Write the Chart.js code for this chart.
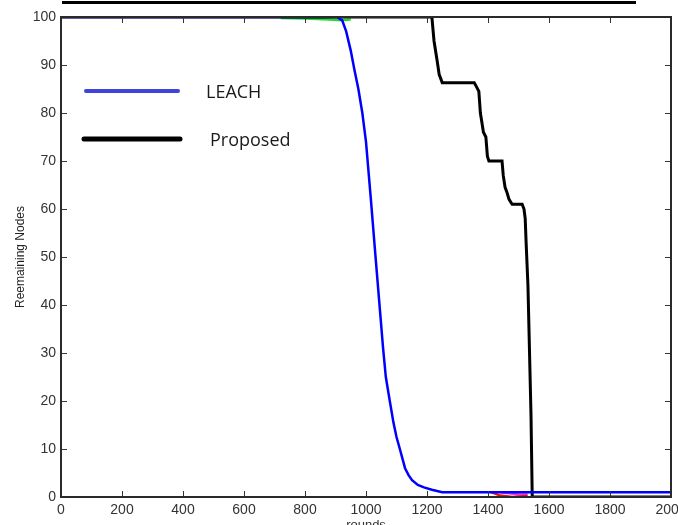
<!DOCTYPE html>
<html>
<head>
<meta charset="utf-8">
<script src="https://cdn.jsdelivr.net/npm/chart.js@4.4.1/dist/chart.umd.min.js"></script>
<style>
  html, body { margin: 0; padding: 0; background: #fff; }
  #wrap { position: relative; width: 678px; height: 525px; overflow: hidden; background: #fff; }
  #box { position: absolute; left: 0; top: 0; width: 700px; height: 545px; }
  #topline { position: absolute; left: 62px; top: 1px; width: 574px; height: 3px; background: #000; }
</style>
</head>
<body>
<div id="wrap">
  <div id="box"><canvas id="chart" width="700" height="545"></canvas></div>
  <div id="topline"></div>
</div>
<script>
// values
const leachRounds = [0, 905, 922, 935, 950, 962, 975, 988, 1000, 1016, 1030, 1043, 1056, 1065, 1078, 1090, 1100, 1111, 1128, 1140, 1151, 1170, 1190, 1216, 1250, 2000];
const leachNodes  = [100, 100, 99.3, 97, 93, 89, 85, 80, 74, 62, 51, 41, 31, 25, 20, 15.5, 12.5, 10, 6, 4.5, 3.5, 2.5, 2, 1.5, 1, 1];

const propRounds = [0, 1200, 1216, 1223, 1233, 1240, 1246, 1250, 1355, 1362, 1370, 1375, 1380, 1385, 1393, 1398, 1403, 1446, 1450, 1456, 1462, 1469, 1479, 1512, 1518, 1522, 1525, 1531, 1541, 1545, 2000];
const propNodes  = [100, 100, 100, 95, 91, 88, 87, 86.3, 86.3, 85.5, 84.5, 80, 78, 76, 75, 71, 70, 70, 67, 64.5, 63.5, 62, 61, 61, 60, 58, 53, 44, 17, 0, 0];

// faint leftovers of other runs visible in the figure
const greenRounds = [720, 800, 880, 920, 950];
const greenNodes  = [99.8, 99.7, 99.5, 99.3, 99.5];
const redRounds = [1410, 1440, 1480, 1530];
const redNodes  = [1, 0.3, 0, 0.2];
const magRounds = [1440, 1470, 1500, 1530];
const magNodes  = [1, 0.8, 0.5, 0.5];

const xTicks = [0, 200, 400, 600, 800, 1000, 1200, 1400, 1600, 1800, 2000];
const yTicks = [0, 10, 20, 30, 40, 50, 60, 70, 80, 90, 100];

function pts(xs, ys) {
    return xs.map((x, i) => ({x: x, y: ys[i]}));
}

// MATLAB style box with inward ticks on all four sides
const frame = {
    id: 'frame',
    afterDatasetsDraw(chart) {
        const ctx = chart.ctx;
        const a = chart.chartArea;
        const xs = chart.scales.x, ys = chart.scales.y;
        ctx.save();
        ctx.strokeStyle = '#333';
        ctx.lineWidth = 1;
        ctx.beginPath();
        xTicks.forEach(v => {
            const px = Math.round(xs.getPixelForValue(v)) + 0.5;
            ctx.moveTo(px, a.bottom); ctx.lineTo(px, a.bottom - 6);
            ctx.moveTo(px, a.top); ctx.lineTo(px, a.top + 6);
        });
        yTicks.forEach(v => {
            const py = Math.round(ys.getPixelForValue(v)) + 0.5;
            ctx.moveTo(a.left, py); ctx.lineTo(a.left + 6, py);
            ctx.moveTo(a.right, py); ctx.lineTo(a.right - 6, py);
        });
        ctx.stroke();
        ctx.lineWidth = 2;
        ctx.strokeStyle = '#2a2a2a';
        ctx.strokeRect(a.left, a.top, a.right - a.left, a.bottom - a.top);
        ctx.restore();
    }
};

// legend drawn inside the axes like the original
const legendBox = {
    id: 'legendBox',
    afterDraw(chart) {
        const ctx = chart.ctx;
        const items = [
            {label: 'LEACH', color: '#3f45d8', width: 4, x0: 86, x1: 178, y: 91, tx: 206},
            {label: 'Proposed', color: '#000', width: 5, x0: 84, x1: 180, y: 139, tx: 210},
        ];
        ctx.save();
        ctx.lineCap = 'round';
        items.forEach(it => {
            ctx.strokeStyle = it.color;
            ctx.lineWidth = it.width;
            ctx.beginPath();
            ctx.moveTo(it.x0, it.y);
            ctx.lineTo(it.x1, it.y);
            ctx.stroke();
            ctx.fillStyle = '#1a1a1a';
            ctx.font = '18px "Open Sans", sans-serif';
            ctx.textBaseline = 'middle';
            ctx.fillText(it.label, it.tx, it.y + 2);
        });
        ctx.restore();
    }
};

new Chart(document.getElementById('chart'), {
    type: 'line',
    data: {
        datasets: [
            {label: 'LEACH', data: pts(leachRounds, leachNodes), borderColor: '#0000ff', borderWidth: 2.5},
            {label: 'Proposed', data: pts(propRounds, propNodes), borderColor: '#000000', borderWidth: 3},
            {label: 'g', data: pts(greenRounds, greenNodes), borderColor: '#22dd22', borderWidth: 2.5},
            {label: 'r', data: pts(redRounds, redNodes), borderColor: '#ee1111', borderWidth: 2.5},
            {label: 'm', data: pts(magRounds, magNodes), borderColor: '#ee33ee', borderWidth: 2.5},
        ]
    },
    options: {
        responsive: false,
        animation: false,
        layout: {padding: {left: 0, right: 29, top: 17, bottom: 0}},
        elements: {
            line: {tension: 0, fill: false},
            point: {radius: 0}
        },
        plugins: {
            legend: {display: false},
            tooltip: {enabled: false}
        },
        scales: {
            x: {
                type: 'linear',
                min: 0, max: 2000,
                afterFit: s => { s.height = 48; },
                grid: {display: false, drawTicks: false},
                border: {display: false},
                afterBuildTicks: s => { s.ticks = xTicks.map(v => ({value: v})); },
                ticks: {
                    maxRotation: 0, autoSkip: false, padding: 5,
                    callback: v => String(v),
                    color: '#333', font: {family: 'Liberation Sans', size: 14}
                },
                title: {
                    display: true, text: 'rounds', color: '#333',
                    font: {family: 'Liberation Sans', size: 13},
                    padding: {top: 0, bottom: 12}
                }
            },
            y: {
                min: 0, max: 100,
                afterFit: s => { s.width = 61; },
                grid: {display: false, drawTicks: false},
                border: {display: false},
                afterBuildTicks: s => { s.ticks = yTicks.map(v => ({value: v})); },
                ticks: {
                    autoSkip: false, padding: 5,
                    callback: v => String(v),
                    color: '#333', font: {family: 'Liberation Sans', size: 14}
                },
                title: {
                    display: true, text: 'Reemaining Nodes', color: '#222',
                    font: {family: 'Liberation Sans', size: 12},
                    padding: {top: 13, bottom: 0}
                }
            }
        }
    },
    plugins: [frame, legendBox]
});
</script>
</body>
</html>
